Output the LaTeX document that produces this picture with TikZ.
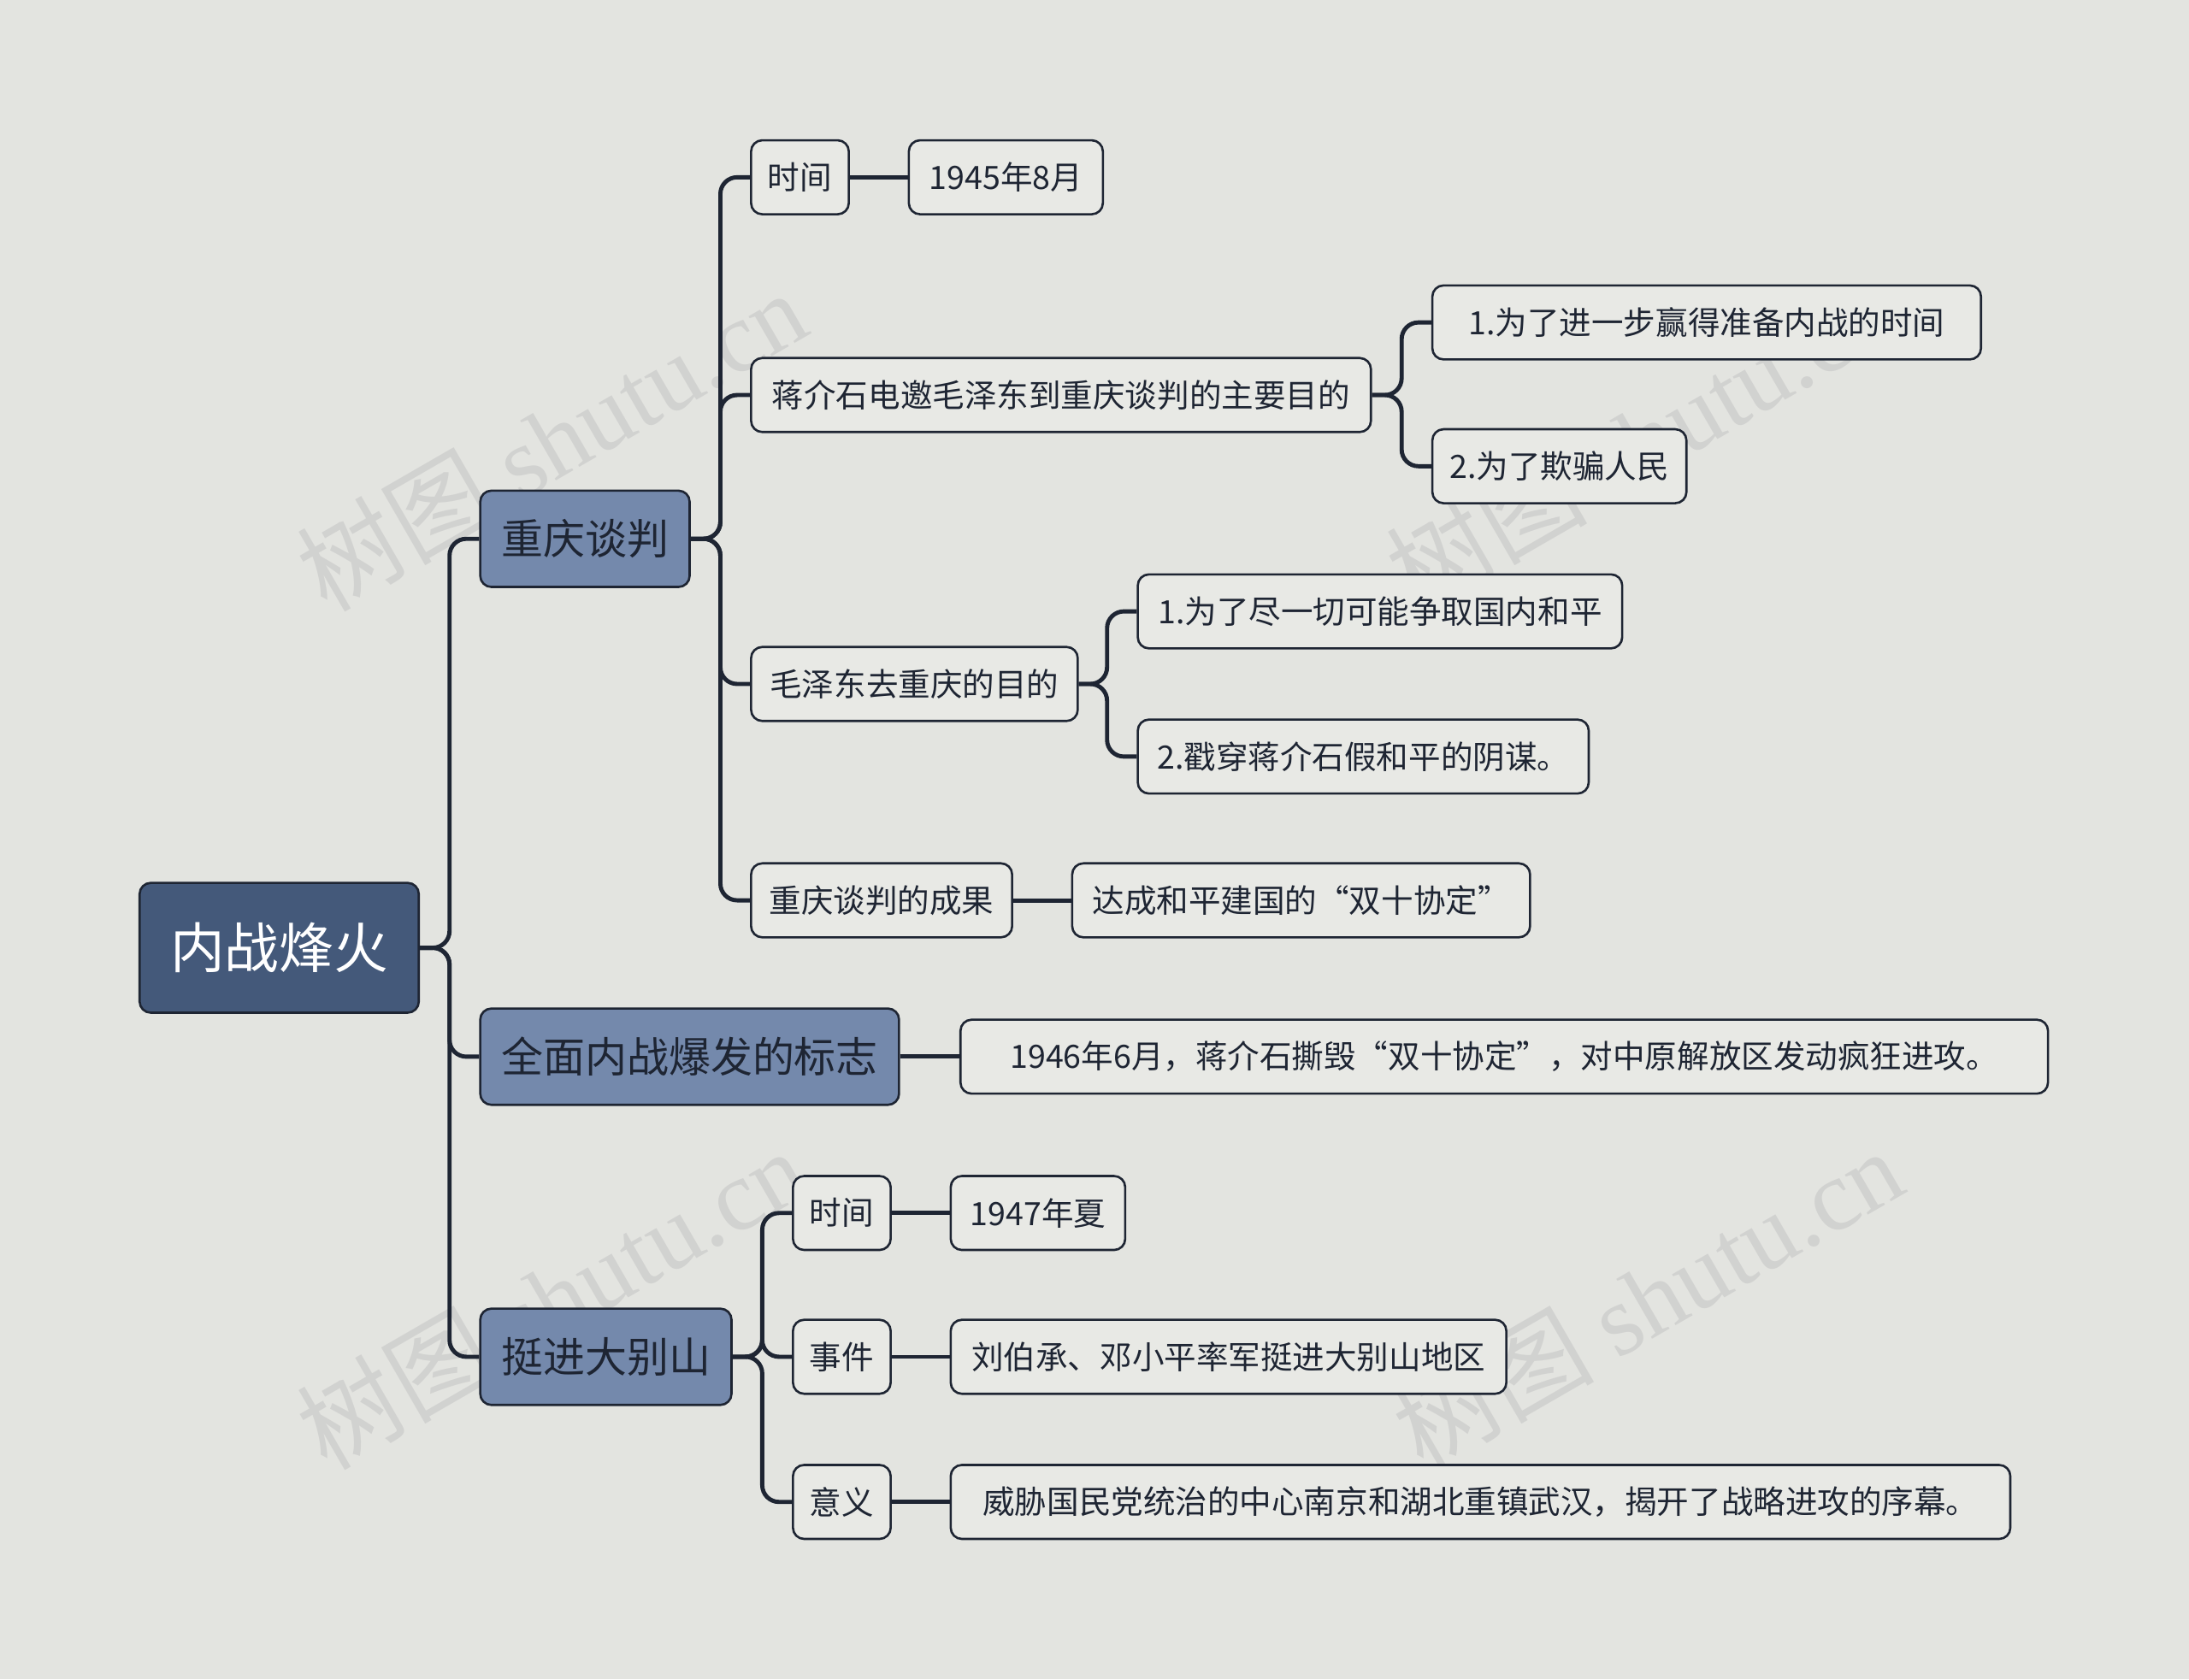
\documentclass[tikz,border=0pt]{standalone}
\usepackage{fontspec}
\setmainfont{Noto Sans CJK SC}
\newfontfamily\wmserif{Liberation Serif}
\usetikzlibrary{calc}
\definecolor{bg}{HTML}{E3E4E0}
\definecolor{ln}{HTML}{1E2533}
\definecolor{rootc}{HTML}{44597A}
\definecolor{l1c}{HTML}{7489AC}
\definecolor{sbc}{HTML}{E8E9E5}
\tikzset{
 base/.style={draw=ln,line width=0.8pt,rounded corners=4pt,inner sep=0pt,text=ln},
 rootn/.style={base,fill=rootc,text=white,font=\fontsize{19.5}{22}\selectfont},
 lone/.style={base,fill=l1c,font=\fontsize{15}{17}\selectfont},
 sb/.style={base,fill=sbc,minimum height=26.5pt,font=\fontsize{11.5}{13}\selectfont},
 conn/.style={draw=ln,line width=1.5pt,rounded corners=6pt},
 wm/.style={text=gray!45,opacity=0.6,rotate=30,font=\fontsize{36}{40}\selectfont}
}
\begin{document}
\begin{tikzpicture}[x=0.5pt,y=-0.5pt]
\fill[bg] (0,0) rectangle (1568,1203);
\useasboundingbox (0,0) rectangle (1568,1203);
\node[wm] (w1) at (395,315) {树图 {\wmserif shutu.cn}};
\node[wm] (w2) at (1175,315) {树图 {\wmserif shutu.cn}};
\node[wm] (w3) at (395,930) {树图 {\wmserif shutu.cn}};
\node[wm] (w4) at (1180,930) {树图 {\wmserif shutu.cn}};
\coordinate (t0) at (322,0);
\coordinate (t1) at (516,0);
\coordinate (t2) at (1004,0);
\coordinate (t3) at (793,0);
\coordinate (t4) at (546,0);
\node[rootn,minimum width=100pt,minimum height=46.5pt] (root) at (200,679) {内战烽火};
\node[lone,minimum width=75pt,minimum height=34.5pt] (a) at (419,386) {重庆谈判};
\node[lone,minimum width=150pt,minimum height=34.5pt] (b) at (494,757) {全面内战爆发的标志};
\node[lone,minimum width=90pt,minimum height=34.5pt] (c) at (434,972) {挺进大别山};
\node[sb,minimum width=35pt] (a1) at (573,127) {时间};
\node[sb,minimum width=69.5pt] (a1x) at (720.5,127) {1945年8月};
\node[sb,minimum width=222pt] (a2) at (760,283) {蒋介石电邀毛泽东到重庆谈判的主要目的};
\node[sb,minimum width=196.5pt] (a21) at (1222.5,231) {1.为了进一步赢得准备内战的时间};
\node[sb,minimum width=91pt] (a22) at (1117,334) {2.为了欺骗人民};
\node[sb,minimum width=117pt] (a3) at (655,490) {毛泽东去重庆的目的};
\node[sb,minimum width=173.5pt] (a31) at (988.5,438) {1.为了尽一切可能争取国内和平};
\node[sb,minimum width=161.5pt] (a32) at (976.5,542) {2.戳穿蒋介石假和平的阴谋。};
\node[sb,minimum width=93.5pt] (a4) at (631.5,645) {重庆谈判的成果};
\node[sb,minimum width=164pt] (a4x) at (932,645) {达成和平建国的“双十协定”};
\node[sb,minimum width=389.5pt] (bx) at (1077.5,757) {1946年6月，蒋介石撕毁“双十协定”，对中原解放区发动疯狂进攻。};
\node[sb,minimum width=35pt] (c1) at (603,869) {时间};
\node[sb,minimum width=62.5pt] (c1x) at (743.5,869) {1947年夏};
\node[sb,minimum width=35pt] (c2) at (603,972) {事件};
\node[sb,minimum width=199pt] (c2x) at (880,972) {刘伯承、邓小平率军挺进大别山地区};
\node[sb,minimum width=35pt] (c3) at (603,1076) {意义};
\node[sb,minimum width=379.5pt] (c3x) at (1060.5,1076) {威胁国民党统治的中心南京和湖北重镇武汉，揭开了战略进攻的序幕。};
\foreach \ch in {a,b,c} \draw[conn] (root.east) -- (root.east -| t0) |- (\ch.west);
\foreach \ch in {a1,a2,a3,a4} \draw[conn] (a.east) -- (a.east -| t1) |- (\ch.west);
\foreach \ch in {a21,a22} \draw[conn] (a2.east) -- (a2.east -| t2) |- (\ch.west);
\foreach \ch in {a31,a32} \draw[conn] (a3.east) -- (a3.east -| t3) |- (\ch.west);
\foreach \ch in {c1,c2,c3} \draw[conn] (c.east) -- (c.east -| t4) |- (\ch.west);
\draw[conn] (a1) -- (a1x);
\draw[conn] (a4) -- (a4x);
\draw[conn] (b) -- (bx);
\draw[conn] (c1) -- (c1x);
\draw[conn] (c2) -- (c2x);
\draw[conn] (c3) -- (c3x);
\end{tikzpicture}
\end{document}
